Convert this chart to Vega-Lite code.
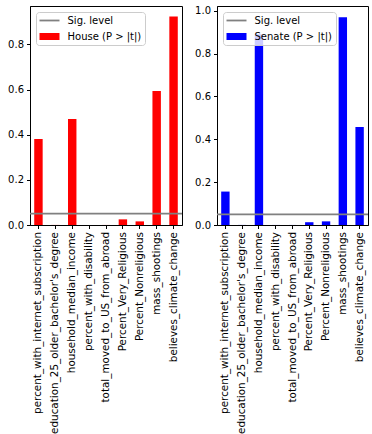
{
  "$schema": "https://vega.github.io/schema/vega-lite/v6.json",
  "padding": {"left": 7, "top": 5, "right": 0, "bottom": 0},
  "spacing": 10,
  "datasets": {
    "pvals": [
      {"chamber": "House", "series": "House (P > |t|)", "variable": "percent_with_internet_subscription", "p": 0.381},
      {"chamber": "House", "series": "House (P > |t|)", "variable": "education_25_older_bachelor's_degree", "p": 0.0003},
      {"chamber": "House", "series": "House (P > |t|)", "variable": "household_median_income", "p": 0.47},
      {"chamber": "House", "series": "House (P > |t|)", "variable": "percent_with_disability", "p": 0.0002},
      {"chamber": "House", "series": "House (P > |t|)", "variable": "total_moved_to_US_from_abroad", "p": 0.0002},
      {"chamber": "House", "series": "House (P > |t|)", "variable": "Percent_Very_Religious", "p": 0.025},
      {"chamber": "House", "series": "House (P > |t|)", "variable": "Percent_Nonreligious", "p": 0.016},
      {"chamber": "House", "series": "House (P > |t|)", "variable": "mass_shootings", "p": 0.594},
      {"chamber": "House", "series": "House (P > |t|)", "variable": "believes_climate_change", "p": 0.923},
      {"chamber": "Senate", "series": "Senate (P > |t|)", "variable": "percent_with_internet_subscription", "p": 0.156},
      {"chamber": "Senate", "series": "Senate (P > |t|)", "variable": "education_25_older_bachelor's_degree", "p": 0.0003},
      {"chamber": "Senate", "series": "Senate (P > |t|)", "variable": "household_median_income", "p": 0.89},
      {"chamber": "Senate", "series": "Senate (P > |t|)", "variable": "percent_with_disability", "p": 0.0002},
      {"chamber": "Senate", "series": "Senate (P > |t|)", "variable": "total_moved_to_US_from_abroad", "p": 0.0002},
      {"chamber": "Senate", "series": "Senate (P > |t|)", "variable": "Percent_Very_Religious", "p": 0.013},
      {"chamber": "Senate", "series": "Senate (P > |t|)", "variable": "Percent_Nonreligious", "p": 0.017},
      {"chamber": "Senate", "series": "Senate (P > |t|)", "variable": "mass_shootings", "p": 0.969},
      {"chamber": "Senate", "series": "Senate (P > |t|)", "variable": "believes_climate_change", "p": 0.457}
    ],
    "sig": [{"label": "Sig. level", "level": 0.05}]
  },
  "hconcat": [
    {
      "width": 152,
      "height": 219,
      "layer": [
        {
          "data": {"name": "pvals"},
          "transform": [{"filter": "datum.chamber === 'House'"}],
          "mark": {"type": "bar"},
          "encoding": {
            "x": {"field": "variable", "type": "nominal", "sort": null,
                  "scale": {"paddingInner": 0.5, "paddingOuter": 0.25}, "title": null},
            "y": {"field": "p", "type": "quantitative",
                  "scale": {"domain": [0, 0.97], "nice": false, "zero": true},
                  "axis": {"values": [0, 0.2, 0.4, 0.6, 0.8], "format": ".1f"}, "title": null},
            "color": {"field": "series", "type": "nominal",
                      "scale": {"domain": ["Sig. level", "House (P > |t|)"], "range": ["#808080", "#ff0000"]},
                      "legend": {"title": null,
                        "encode": {"symbols": {"update": {
                          "shape": {"signal": "datum.value === 'Sig. level' ? 'M-1,-0.18H3V0.18H-1Z' : 'M-1,-0.7H3V0.7H-1Z'"},
                          "fill": {"signal": "datum.value === 'Sig. level' ? '#808080' : '#ff0000'"},
                          "strokeWidth": {"value": 0},
                          "opacity": {"value": 1}
                        }}}}}
          }
        },
        {
          "data": {"name": "sig"},
          "mark": {"type": "rule", "strokeWidth": 1.8},
          "encoding": {
            "y": {"field": "level", "type": "quantitative"},
            "color": {"field": "label", "type": "nominal"}
          }
        }
      ]
    },
    {
      "width": 151,
      "height": 219,
      "layer": [
        {
          "data": {"name": "pvals"},
          "transform": [{"filter": "datum.chamber === 'Senate'"}],
          "mark": {"type": "bar"},
          "encoding": {
            "x": {"field": "variable", "type": "nominal", "sort": null,
                  "scale": {"paddingInner": 0.5, "paddingOuter": 0.25}, "title": null},
            "y": {"field": "p", "type": "quantitative",
                  "scale": {"domain": [0, 1.022], "nice": false, "zero": true},
                  "axis": {"values": [0, 0.2, 0.4, 0.6, 0.8, 1.0], "format": ".1f"}, "title": null},
            "color": {"field": "series", "type": "nominal",
                      "scale": {"domain": ["Sig. level", "Senate (P > |t|)"], "range": ["#808080", "#0000ff"]},
                      "legend": {"title": null,
                        "encode": {"symbols": {"update": {
                          "shape": {"signal": "datum.value === 'Sig. level' ? 'M-1,-0.18H3V0.18H-1Z' : 'M-1,-0.7H3V0.7H-1Z'"},
                          "fill": {"signal": "datum.value === 'Sig. level' ? '#808080' : '#0000ff'"},
                          "strokeWidth": {"value": 0},
                          "opacity": {"value": 1}
                        }}}}}
          }
        },
        {
          "data": {"name": "sig"},
          "mark": {"type": "rule", "strokeWidth": 1.8},
          "encoding": {
            "y": {"field": "level", "type": "quantitative"},
            "color": {"field": "label", "type": "nominal"}
          }
        }
      ]
    }
  ],
  "resolve": {"scale": {"color": "independent", "y": "independent", "x": "independent"}, "legend": {"color": "independent"}},
  "config": {
    "font": "DejaVu Sans",
    "view": {"stroke": "black", "strokeWidth": 1},
    "axis": {
      "grid": false,
      "domainColor": "black",
      "tickColor": "black",
      "tickSize": 3.5,
      "labelColor": "black",
      "labelFont": "DejaVu Sans",
      "labelFontSize": 10,
      "labelPadding": 3,
      "domainWidth": 1
    },
    "axisX": {"labelAngle": -90, "labelLimit": 400, "labelFont": "DejaVu Sans", "labelFontSize": 10.4},
    "legend": {
      "orient": "top-left",
      "offset": 6,
      "padding": 3.5,
      "strokeColor": "#cccccc",
      "fillColor": "rgba(255,255,255,0.8)",
      "cornerRadius": 3,
      "labelFont": "DejaVu Sans",
      "labelFontSize": 10,
      "labelColor": "black",
      "symbolSize": 100,
      "rowPadding": 6,
      "labelOffset": 18
    }
  }
}
